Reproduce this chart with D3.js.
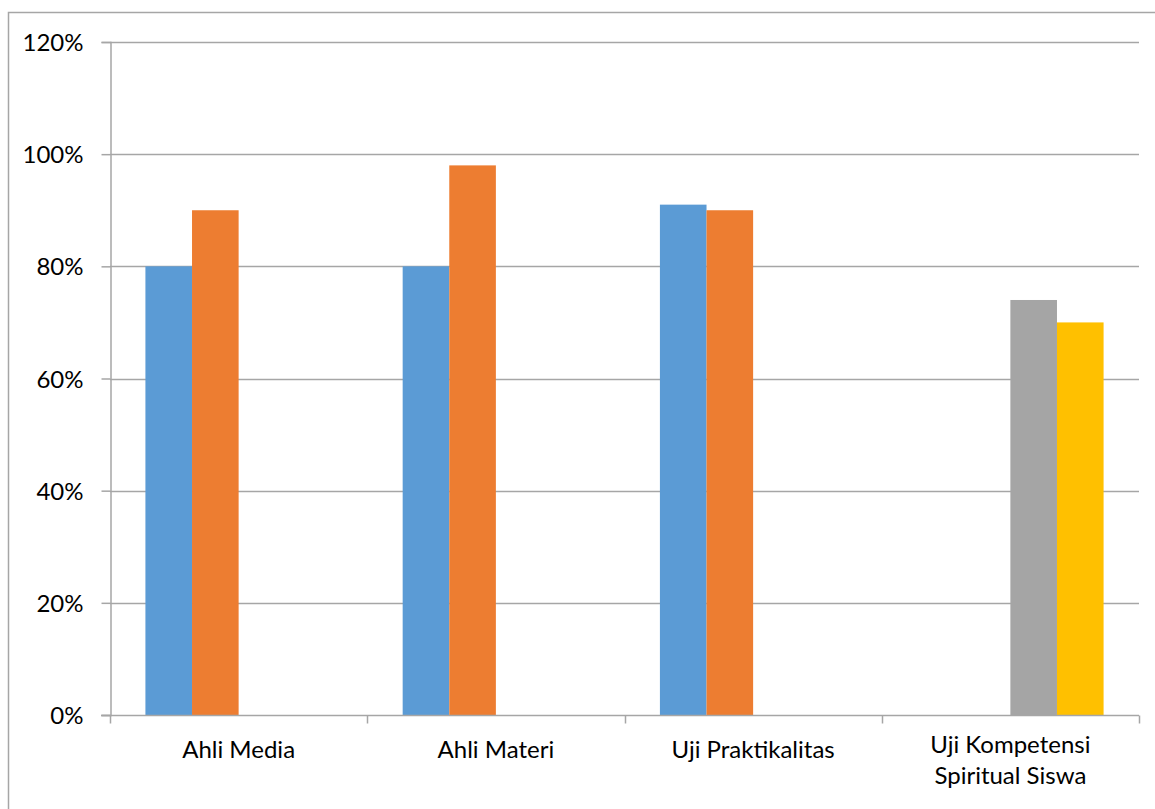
<!DOCTYPE html>
<html>
<head>
<meta charset="utf-8">
<title>Chart</title>
<style>
  body { margin: 0; background: #fff; }
  .lbl { font-family: Lato, "Open Sans", sans-serif; font-size: 24px; fill: #000; }
</style>
</head>
<body>
<script src="https://cdn.jsdelivr.net/npm/d3@7"></script>
<script>
var categories = [["Ahli Media"], ["Ahli Materi"], ["Uji Praktikalitas"], ["Uji Kompetensi", "Spiritual Siswa"]];
var seriesNames = ["s1", "s2", "s3", "s4"];
var seriesColors = ["#5B9BD5", "#ED7D31", "#A5A5A5", "#FFC000"];
// one row per category, one value per series (0 = no bar)
var values = [
  [0.80, 0.90, 0, 0],
  [0.80, 0.98, 0, 0],
  [0.91, 0.90, 0, 0],
  [0, 0, 0.74, 0.70]
];
var yTicks = [0, 0.2, 0.4, 0.6, 0.8, 1.0, 1.2];

var width = 1155, height = 809;
var plot = {left: 110, right: 1139, top: 42, bottom: 715};

var svg = d3.select("body").append("svg")
  .attr("width", width).attr("height", height);

// outer chart border
svg.append("rect")
  .attr("x", 8.5).attr("y", 12.5)
  .attr("width", width + 10).attr("height", height + 10)
  .attr("fill", "none").attr("stroke", "#a6a6a6").attr("stroke-width", 1.5);

var x = d3.scaleBand().domain(d3.range(categories.length))
  .range([plot.left, plot.right]);
var inner = d3.scaleBand().domain(d3.range(seriesNames.length))
  .range([0, x.bandwidth()]).paddingOuter(0.76);
var y = d3.scaleLinear().domain([0, 1.2]).range([plot.bottom, plot.top]);

// gridlines
svg.append("g").selectAll("line")
  .data(yTicks.slice(1))
  .enter().append("line")
  .attr("x1", plot.left).attr("x2", plot.right)
  .attr("y1", function(d){ return Math.round(y(d)) + 0.5; })
  .attr("y2", function(d){ return Math.round(y(d)) + 0.5; })
  .attr("stroke", "#a6a6a6").attr("stroke-width", 1.5);

// bars
var cells = [];
values.forEach(function(row, i){
  row.forEach(function(v, j){ if (v > 0) cells.push({c: i, s: j, v: v}); });
});
svg.append("g").selectAll("rect")
  .data(cells)
  .enter().append("rect")
  .attr("x", function(d){ return x(d.c) + inner(d.s); })
  .attr("y", function(d){ return y(d.v); })
  .attr("width", inner.bandwidth())
  .attr("height", function(d){ return y(0) - y(d.v); })
  .attr("fill", function(d){ return seriesColors[d.s]; });

// y axis
var yAxis = svg.append("g")
  .attr("transform", "translate(" + (plot.left + 0.5) + ",0)")
  .call(d3.axisLeft(y).tickValues(yTicks).tickFormat(d3.format(".0%")).tickSizeOuter(0).tickSize(9).tickPadding(18));
yAxis.selectAll("line, path").attr("stroke", "#a6a6a6").attr("stroke-width", 1.5);
yAxis.selectAll("text").attr("class", "lbl").attr("font-size", null).attr("font-family", null).attr("dy", "0.36em");

// x axis
var xAxis = svg.append("g")
  .attr("transform", "translate(0," + (plot.bottom + 0.5) + ")");
xAxis.append("line")
  .attr("x1", plot.left - 9).attr("x2", plot.right)
  .attr("stroke", "#a6a6a6").attr("stroke-width", 1.5);
xAxis.selectAll(".tick")
  .data(d3.range(categories.length + 1))
  .enter().append("line")
  .attr("x1", function(d){ return Math.round(plot.left + d * x.step()) + 0.5; })
  .attr("x2", function(d){ return Math.round(plot.left + d * x.step()) + 0.5; })
  .attr("y1", 0).attr("y2", 8)
  .attr("stroke", "#a6a6a6").attr("stroke-width", 1.5);

var labels = svg.append("g").selectAll("text")
  .data(categories)
  .enter().append("text")
  .attr("class", "lbl")
  .attr("text-anchor", "middle")
  .attr("x", function(d, i){ return x(i) + x.bandwidth() / 2; })
  .attr("y", function(d){ return d.length > 1 ? 753 : 758; });
labels.selectAll("tspan")
  .data(function(d){ return d; })
  .enter().append("tspan")
  .attr("x", function(){ return this.parentNode.getAttribute("x"); })
  .attr("dy", function(d, i){ return i ? 31 : 0; })
  .text(function(d){ return d; });
</script>
</body>
</html>
